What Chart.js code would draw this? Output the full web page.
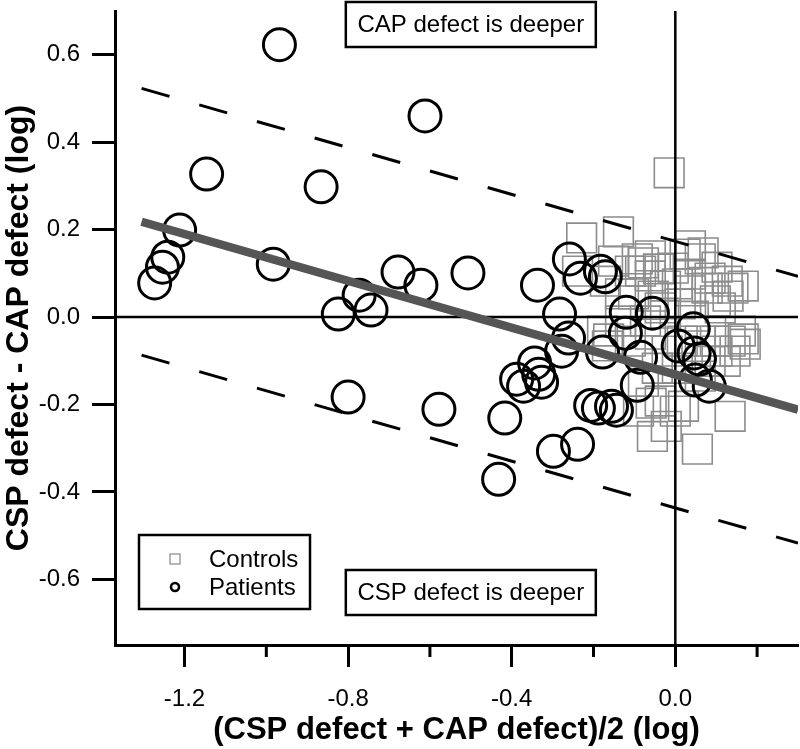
<!DOCTYPE html>
<html><head><meta charset="utf-8">
<script src="https://cdn.jsdelivr.net/npm/chart.js@4.4.1/dist/chart.umd.min.js"></script>
<style>html,body{margin:0;padding:0;background:#fff}canvas{display:block}</style>
</head><body>
<canvas id="c" width="800" height="749"></canvas>
<script>
// ---- data ----
const patientsX=[-0.968,-0.612,-1.146,-0.866,-1.212,-1.241,-1.254,-1.273,-0.983,-0.678,-0.622,-0.824,-0.773,-0.744,-0.507,-0.800,-0.578,-0.337,-0.417,-0.432,-0.298,-0.239,-0.388,-0.371,-0.344,-0.334,-0.327,-0.259,-0.232,-0.183,-0.171,-0.283,-0.261,-0.278,-0.178,-0.120,-0.056,-0.122,-0.085,-0.093,0.044,0.007,0.046,0.059,0.049,0.083,-0.207,-0.188,-0.156,-0.144];
const patientsY=[0.623,0.460,0.327,0.298,0.199,0.137,0.114,0.078,0.121,0.103,0.073,0.007,0.050,0.016,0.101,-0.183,-0.211,0.073,-0.231,-0.371,-0.307,-0.291,-0.142,-0.158,-0.105,-0.131,-0.149,0.133,0.089,0.105,0.092,0.007,-0.048,-0.078,-0.080,0.011,0.009,-0.037,-0.092,-0.156,-0.027,-0.066,-0.082,-0.096,-0.144,-0.158,-0.202,-0.208,-0.204,-0.213];
const controlsX=[-0.015,-0.229,-0.139,-0.151,-0.093,-0.078,-0.110,-0.085,-0.061,-0.041,-0.005,0.024,0.061,0.068,0.102,0.037,0.005,0.085,0.127,0.141,0.129,0.037,0.078,-0.134,-0.102,-0.054,0.012,0.110,-0.024,-0.037,0.166,0.134,0.098,0.102,0.061,0.017,-0.020,-0.061,-0.110,-0.163,-0.166,0.005,-0.044,0.085,-0.078,-0.037,0.000,-0.059,0.020,-0.022,-0.056,0.134,0.054,-0.090,-0.239,-0.171,-0.178,-0.134,0.044,0.159,0.146,0.166,0.171,0.122,0.037,-0.061,-0.024,-0.073,0.061,0.098];
const controlsY=[0.330,0.181,0.195,0.128,0.133,0.124,0.105,0.105,0.094,0.110,0.112,0.144,0.133,0.147,0.114,0.098,0.076,0.089,0.082,0.066,0.048,0.060,0.066,0.053,0.053,0.048,0.030,0.021,0.009,0.021,-0.050,-0.055,-0.055,-0.078,-0.055,-0.055,-0.078,-0.039,-0.055,-0.050,-0.066,-0.117,-0.117,-0.101,-0.147,-0.192,-0.215,-0.197,-0.204,-0.250,-0.273,-0.227,-0.302,-0.215,0.105,0.082,-0.032,-0.009,0.002,-0.032,-0.078,0.071,-0.062,-0.101,0.163,0.140,0.071,-0.009,-0.135,0.037];
const fitX=[-1.305,0.30];
const fitY=[0.218,-0.212];
const upperY=[0.523,0.093];
const lowerY=[-0.087,-0.517];
const xMajorTicks=[-1.2,-0.8,-0.4,0.0];
const xMinorTicks=[-1.0,-0.6,-0.2,0.2];
const yTicks=[-0.6,-0.4,-0.2,0.0,0.2,0.4,0.6];
const xRange=[-1.37,0.30];
const yRange=[-0.75,0.70];
const seriesNames=['Controls','Patients'];
const noteTop='CAP defect is deeper';
const noteBottom='CSP defect is deeper';
const xTitle='(CSP defect + CAP defect)/2 (log)';
const yTitle='CSP defect - CAP defect (log)';

// ---- chart ----
const F='"Liberation Sans", Arial, Helvetica, sans-serif';
const pts=(xs,ys)=>xs.map((v,i)=>({x:v,y:ys[i]}));
const isMajor=v=>xMajorTicks.some(m=>Math.abs(m-v)<1e-9);
const noPad=s=>{s.paddingLeft=0;s.paddingRight=0;s.paddingTop=0;s.paddingBottom=0;};

const overlay={
  id:'overlay',
  afterDatasetDraw(chart,args){
    if(args.index!==0) return;
    const {ctx,chartArea:a,scales:{x,y}}=chart;
    const x0=x.getPixelForValue(0), y0=y.getPixelForValue(0);
    ctx.save();
    ctx.strokeStyle='#000'; ctx.lineWidth=2.5;
    ctx.beginPath();
    ctx.moveTo(x0,a.top); ctx.lineTo(x0,a.bottom);
    ctx.moveTo(a.left,y0); ctx.lineTo(a.right,y0);
    ctx.stroke();
    ctx.restore();
  },
  afterDraw(chart){
    const {ctx,chartArea:a,scales:{x}}=chart;
    ctx.save();
    ctx.strokeStyle='#000'; ctx.lineWidth=3;
    ctx.beginPath();
    xMinorTicks.forEach(v=>{const p=x.getPixelForValue(v); ctx.moveTo(p,a.bottom); ctx.lineTo(p,a.bottom+12);});
    ctx.stroke();
    const cx=x.getPixelForValue(-0.5);
    const box=(top,text)=>{
      const w=250,h=45;
      ctx.fillStyle='#fff'; ctx.fillRect(cx-w/2,top,w,h);
      ctx.lineWidth=2.5; ctx.strokeStyle='#000'; ctx.strokeRect(cx-w/2,top,w,h);
      ctx.fillStyle='#000'; ctx.font='24px '+F; ctx.textAlign='center'; ctx.textBaseline='middle';
      ctx.fillText(text,cx,top+h/2+1);
    };
    box(2,noteTop);
    box(570,noteBottom);
    const L=139,T=535,W=171,H=74;
    ctx.fillStyle='#fff'; ctx.fillRect(L,T,W,H);
    ctx.lineWidth=2.5; ctx.strokeStyle='#000'; ctx.strokeRect(L,T,W,H);
    ctx.lineWidth=1.2; ctx.strokeStyle='#888'; ctx.strokeRect(170,554,10,10);
    ctx.lineWidth=2.6; ctx.strokeStyle='#000'; ctx.beginPath(); ctx.arc(175,587,4,0,Math.PI*2); ctx.stroke();
    ctx.fillStyle='#000'; ctx.font='24px '+F; ctx.textAlign='left'; ctx.textBaseline='middle';
    ctx.fillText(seriesNames[0],209,560);
    ctx.fillText(seriesNames[1],209,588);
    ctx.restore();
  }
};

new Chart(document.getElementById('c'),{
  type:'scatter',
  data:{datasets:[
    {label:seriesNames[0],data:pts(controlsX,controlsY),order:5,pointStyle:'rect',pointRadius:21,borderColor:'#8c8c8c',backgroundColor:'rgba(0,0,0,0)',borderWidth:1.6,clip:false},
    {label:seriesNames[1],data:pts(patientsX,patientsY),order:4,pointStyle:'circle',pointRadius:16,borderColor:'#000',backgroundColor:'rgba(0,0,0,0)',borderWidth:3,clip:false},
    {type:'line',label:'fit',data:pts(fitX,fitY),order:3,borderColor:'#555',borderWidth:8.5,pointRadius:0,borderCapStyle:'butt',fill:false},
    {type:'line',label:'upper',data:pts(fitX,upperY),order:2,borderColor:'#000',borderWidth:3,borderDash:[29,31],pointRadius:0,borderCapStyle:'butt',fill:false},
    {type:'line',label:'lower',data:pts(fitX,lowerY),order:1,borderColor:'#000',borderWidth:3,borderDash:[29,31],pointRadius:0,borderCapStyle:'butt',fill:false}
  ]},
  options:{
    responsive:false, animation:false, events:[], devicePixelRatio:1,
    layout:{autoPadding:false,padding:{top:11,right:2,left:0,bottom:0}},
    plugins:{legend:{display:false},tooltip:{enabled:false}},
    scales:{
      x:{type:'linear',min:xRange[0],max:xRange[1],
        afterBuildTicks:s=>{s.ticks=[...xMajorTicks,...xMinorTicks].sort((a,b)=>a-b).map(v=>({value:v}));},
        ticks:{callback:v=>isMajor(v)?v.toFixed(1):'',font:{family:F,size:24},color:'#000',padding:18,maxRotation:0,autoSkip:false},
        grid:{drawOnChartArea:false,tickLength:22,tickWidth:3,tickColor:c=>(c.tick&&isMajor(c.tick.value))?'#000':'rgba(0,0,0,0)'},
        border:{color:'#000',width:3},
        title:{display:true,text:xTitle,font:{family:F,size:31,weight:'bold'},color:'#000',padding:{top:0,bottom:0}},
        afterFit:s=>{s.height=104;noPad(s);}
      },
      y:{type:'linear',min:yRange[0],max:yRange[1],
        afterBuildTicks:s=>{s.ticks=yTicks.map(v=>({value:v}));},
        ticks:{callback:v=>v.toFixed(1),font:{family:F,size:24},color:'#000',padding:12},
        grid:{drawOnChartArea:false,tickLength:23,tickWidth:3,tickColor:'#000'},
        border:{color:'#000',width:3},
        title:{display:true,text:yTitle,font:{family:F,size:32,weight:'bold'},color:'#000',padding:{top:0,bottom:0}},
        afterFit:s=>{s.width=115;noPad(s);}
      }
    }
  },
  plugins:[overlay]
});
</script>
</body></html>
